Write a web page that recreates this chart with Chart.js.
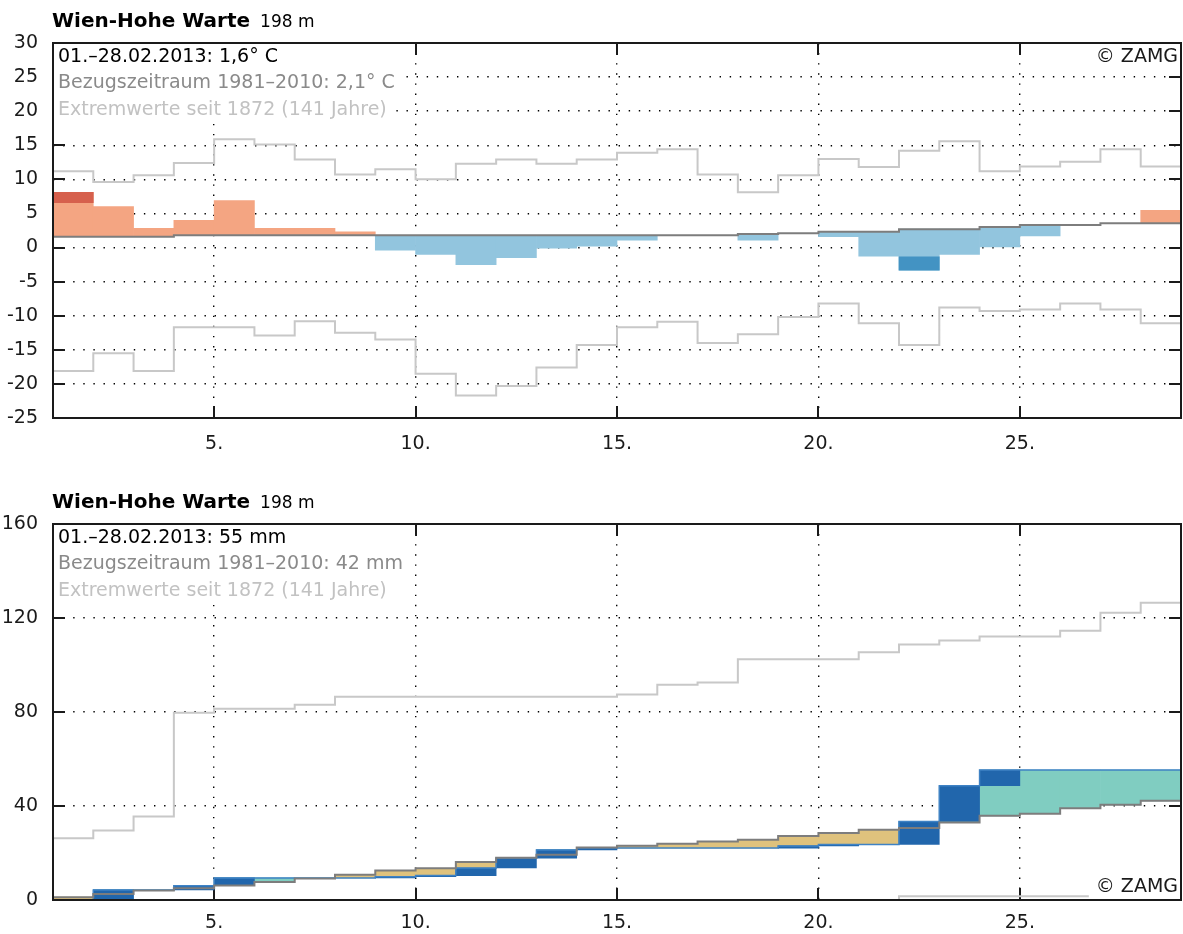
<!DOCTYPE html>
<html lang="de">
<head>
<meta charset="UTF-8">
<title>Wien-Hohe Warte – Februar 2013</title>
<script src="https://cdn.jsdelivr.net/npm/chart.js"></script>
<style>
  body { margin: 0; background: #fff; }
  canvas { display: block; }
</style>
</head>
<body>
<canvas id="tempChart" width="1183" height="470"></canvas>
<canvas id="precipChart" width="1183" height="464"></canvas>
<script>
// days of February 2013, each value holds for the whole day
const days = [1, 2, 3, 4, 5, 6, 7, 8, 9, 10, 11, 12, 13, 14, 15, 16, 17, 18, 19, 20, 21, 22, 23, 24, 25, 26, 27, 28];
const dayTicks = [5, 10, 15, 20, 25];
const tempTicks = [-25, -20, -15, -10, -5, 0, 5, 10, 15, 20, 25, 30];
const precipTicks = [0, 40, 80, 120, 160];

// temperature, daily mean (°C)
const tempObs = [8.1, 6.0, 2.8, 4.0, 6.9, 2.8, 2.8, 2.3, -0.4, -1.0, -2.5, -1.5, -0.1, 0.2,
  1.1, 1.8, 1.8, 1.1, 2.1, 1.6, -1.25, -3.3, -1.0, 0.0, 1.7, 3.3, 3.55, 5.45];
const tempMean = [1.6, 1.6, 1.6, 1.8, 1.8, 1.8, 1.8, 1.8, 1.8, 1.8, 1.8, 1.8, 1.8, 1.8,
  1.8, 1.8, 1.8, 2.0, 2.1, 2.3, 2.3, 2.7, 2.7, 3.0, 3.3, 3.3, 3.55, 3.55];
// start of the strong (dark) part of the deviation
const tempStrong = [6.6, null, null, null, null, null, null, null, null, null, null, null, null, null,
  null, null, null, null, null, null, null, -1.35, null, null, null, null, null, null];
const tempMaxRecord = [11.2, 9.6, 10.6, 12.4, 15.9, 15.1, 12.9, 10.7, 11.5, 10.0, 12.3, 12.9, 12.3, 12.9,
  13.9, 14.4, 10.7, 8.1, 10.6, 13.0, 11.8, 14.2, 15.6, 11.2, 11.9, 12.6, 14.4, 11.9];
const tempMinRecord = [-18.1, -15.5, -18.1, -11.7, -11.7, -12.9, -10.8, -12.5, -13.5, -18.5, -21.7, -20.3, -17.6, -14.3,
  -11.7, -10.9, -14.0, -12.7, -10.2, -8.2, -11.1, -14.3, -8.8, -9.3, -9.1, -8.2, -9.1, -11.1];

// precipitation, running sum (mm)
const precipObs = [0, 4.3, 4.3, 6.1, 9.4, 9.4, 9.4, 9.4, 9.9, 10.4, 13.6, 17.8, 21.3, 22.1,
  22.1, 22.1, 22.1, 22.1, 23.0, 23.6, 23.6, 33.4, 48.6, 55.3, 55.3, 55.3, 55.3, 55.3];
const precipMean = [1.2, 2.6, 4.0, 5.0, 6.2, 7.7, 9.1, 10.7, 12.6, 13.5, 16.2, 18.0, 19.3, 22.3,
  23.1, 23.9, 24.9, 25.6, 27.2, 28.5, 29.9, 30.6, 33.0, 35.8, 36.7, 39.0, 40.5, 42.2];
const precipMaxRecord = [26.3, 29.6, 35.5, 79.7, 81.4, 81.4, 83.1, 86.5, 86.5, 86.5, 86.5, 86.5, 86.5, 86.5,
  87.5, 91.6, 92.6, 102.5, 102.5, 102.5, 105.4, 108.7, 110.4, 112.1, 112.1, 114.6, 122.2, 126.5];
const precipMinRecord = [0, 0, 0, 0, 0, 0, 0, 0, 0, 0, 0, 0, 0, 0,
  0, 0, 0, 0, 0, 0, 0, 1.6, 1.6, 1.6, 1.6, 1.6, 1.6, 1.6];

const station = 'Wien-Hohe Warte';
const altitude = '198 m';
const tempNotes = ['01.–28.02.2013: 1,6° C', 'Bezugszeitraum 1981–2010: 2,1° C', 'Extremwerte seit 1872 (141 Jahre)'];
const precipNotes = ['01.–28.02.2013: 55 mm', 'Bezugszeitraum 1981–2010: 42 mm', 'Extremwerte seit 1872 (141 Jahre)'];
const noteColors = ['#000', '#8a8a8a', '#c2c2c2'];

const FONT = '"DejaVu Sans"';
Chart.defaults.font.family = FONT;

// line that keeps each day's value until the next day starts
function stepLine(values) {
  const pts = values.map((v, i) => ({ x: days[i], y: v }));
  pts.push({ x: days[days.length - 1] + 1, y: values[values.length - 1] });
  return pts;
}

// floating bar over the whole day
function dayBars(lo, hi) {
  return days.map((d, i) => ({
    x: d + 0.5,
    y: (lo[i] == null || hi[i] == null) ? null : [lo[i], hi[i]]
  }));
}

const panelPlugin = {
  id: 'panel',
  beforeDraw(chart) {
    const { ctx, width, height } = chart;
    ctx.save();
    ctx.fillStyle = '#fff';
    ctx.fillRect(0, 0, width, height);
    ctx.restore();
  },
  beforeDatasetsDraw(chart, args, opts) {
    const { ctx, chartArea: a, scales: { x, y } } = chart;
    ctx.save();
    // tick marks pointing inward
    ctx.strokeStyle = '#1a1a1a';
    ctx.lineWidth = 2;
    ctx.beginPath();
    y.ticks.forEach(t => {
      const py = Math.round(y.getPixelForValue(t.value));
      ctx.moveTo(a.left, py); ctx.lineTo(a.left + 12, py);
      ctx.moveTo(a.right - 12, py); ctx.lineTo(a.right, py);
    });
    x.ticks.forEach(t => {
      const px = Math.round(x.getPixelForValue(t.value));
      ctx.moveTo(px, a.bottom); ctx.lineTo(px, a.bottom - 12);
      ctx.moveTo(px, a.top); ctx.lineTo(px, a.top + 12);
    });
    ctx.stroke();
    // notes in the upper left corner
    ctx.font = '19px ' + FONT;
    ctx.textBaseline = 'middle';
    opts.notes.forEach((note, i) => {
      const cy = a.top + 14 + i * 26.5;
      const w = ctx.measureText(note).width;
      ctx.fillStyle = '#fff';
      ctx.fillRect(a.left + 1, cy - 13, w + 12, 27);
      ctx.fillStyle = noteColors[i];
      ctx.fillText(note, a.left + 5, cy);
    });
    ctx.restore();
  },
  afterDatasetsDraw(chart, args, opts) {
    const { ctx, chartArea: a } = chart;
    ctx.save();
    // copyright
    ctx.font = '19px ' + FONT;
    ctx.textBaseline = 'middle';
    ctx.textAlign = 'right';
    const cy = opts.zamgTop ? a.top + 14 : a.bottom - 13;
    const w = ctx.measureText('© ZAMG').width;
    ctx.fillStyle = '#fff';
    ctx.fillRect(a.right - w - 10, cy - 12, w + 9, 23);
    ctx.fillStyle = '#1a1a1a';
    ctx.fillText('© ZAMG', a.right - 3, cy);
    // frame
    ctx.strokeStyle = '#1a1a1a';
    ctx.lineWidth = 2;
    ctx.strokeRect(a.left, a.top, a.right - a.left, a.bottom - a.top);
    // title
    ctx.textAlign = 'left';
    ctx.textBaseline = 'alphabetic';
    ctx.fillStyle = '#000';
    ctx.font = 'bold 20px ' + FONT;
    ctx.fillText(station, 52, a.top - 16);
    const tw = ctx.measureText(station).width;
    ctx.font = '17px ' + FONT;
    ctx.fillText(altitude, 52 + tw + 10, a.top - 16);
    ctx.restore();
  }
};

function xAxis(height, pad) {
  return {
    type: 'linear',
    min: days[0],
    max: days[days.length - 1] + 1,
    offset: false,
    afterBuildTicks: s => { s.ticks = dayTicks.map(v => ({ value: v })); },
    afterFit: s => { s.height = height; },
    ticks: { callback: v => v + '.', color: '#1a1a1a', font: { size: 19 }, padding: pad, maxRotation: 0, autoSkip: false },
    grid: { color: '#000', lineWidth: 1.4, drawTicks: false, offset: false },
    border: { display: false, dash: [1.4, 8.7] }
  };
}

function yAxis(tickList) {
  const lo = tickList[0], hi = tickList[tickList.length - 1];
  return {
    type: 'linear',
    min: lo,
    max: hi,
    afterBuildTicks: s => { s.ticks = tickList.map(v => ({ value: v })); },
    afterFit: s => { s.width = 53; },
    ticks: { color: '#1a1a1a', font: { size: 19 }, padding: 15 },
    grid: {
      color: c => (c.tick && (c.tick.value === lo || c.tick.value === hi)) ? 'rgba(0,0,0,0)' : '#000',
      lineWidth: 1.4,
      drawTicks: false
    },
    border: { display: false, dash: [1.4, 8.7] }
  };
}

const commonPlugins = { legend: { display: false }, tooltip: { enabled: false } };

// temperature panel
new Chart(document.getElementById('tempChart'), {
  type: 'line',
  data: {
    datasets: [
      {
        type: 'bar',
        data: dayBars(tempMean, tempObs),
        backgroundColor: days.map((d, i) => tempObs[i] >= tempMean[i] ? '#f4a582' : '#92c5de'),
        grouped: false, barPercentage: 1, categoryPercentage: 1, borderWidth: 0,
        order: 6
      },
      {
        type: 'bar',
        data: dayBars(tempStrong, tempObs),
        backgroundColor: days.map((d, i) => tempObs[i] >= tempMean[i] ? '#d6604d' : '#4393c3'),
        grouped: false, barPercentage: 1, categoryPercentage: 1, borderWidth: 0,
        order: 5
      },
      {
        data: stepLine(tempMaxRecord), stepped: true,
        borderColor: '#c8c8c8', borderWidth: 2, pointRadius: 0, fill: false, order: 3
      },
      {
        data: stepLine(tempMinRecord), stepped: true,
        borderColor: '#c8c8c8', borderWidth: 2, pointRadius: 0, fill: false, order: 3
      },
      {
        data: stepLine(tempMean), stepped: true,
        borderColor: '#7d7d7d', borderWidth: 2, pointRadius: 0, fill: false, order: 1
      }
    ]
  },
  options: {
    responsive: false,
    animation: false,
    layout: { padding: { top: 43, right: 2, left: 0, bottom: 0 } },
    scales: { x: xAxis(52, 15), y: yAxis(tempTicks) },
    plugins: Object.assign({ panel: { notes: tempNotes, zamgTop: true } }, commonPlugins)
  },
  plugins: [panelPlugin]
});

// precipitation panel
const prevObs = precipObs.map((v, i) => i === 0 ? 0 : precipObs[i - 1]);
const rainFrom = precipObs.map((v, i) => v > prevObs[i] ? prevObs[i] : null);

new Chart(document.getElementById('precipChart'), {
  type: 'line',
  data: {
    datasets: [
      {
        type: 'bar',
        data: dayBars(precipMean, precipObs),
        backgroundColor: days.map((d, i) => precipObs[i] >= precipMean[i] ? '#80cdc1' : '#dfc27d'),
        grouped: false, barPercentage: 1, categoryPercentage: 1, borderWidth: 0,
        order: 7
      },
      {
        type: 'bar',
        data: dayBars(rainFrom, precipObs),
        backgroundColor: '#2166ac',
        grouped: false, barPercentage: 1, categoryPercentage: 1, borderWidth: 0,
        order: 6
      },
      {
        data: stepLine(precipMaxRecord), stepped: true,
        borderColor: '#c8c8c8', borderWidth: 2, pointRadius: 0, fill: false, order: 4
      },
      {
        data: stepLine(precipMinRecord), stepped: true,
        borderColor: '#c8c8c8', borderWidth: 2, pointRadius: 0, fill: false, order: 4
      },
      {
        data: stepLine(precipObs), stepped: true,
        borderColor: '#3f82c4', borderWidth: 1.5, pointRadius: 0, fill: false, order: 2
      },
      {
        data: stepLine(precipMean), stepped: true,
        borderColor: '#7d7d7d', borderWidth: 2, pointRadius: 0, fill: false, order: 1
      }
    ]
  },
  options: {
    responsive: false,
    animation: false,
    layout: { padding: { top: 54, right: 2, left: 0, bottom: 0 } },
    scales: { x: xAxis(34, 12), y: yAxis(precipTicks) },
    plugins: Object.assign({ panel: { notes: precipNotes, zamgTop: false } }, commonPlugins)
  },
  plugins: [panelPlugin]
});
</script>
</body>
</html>
